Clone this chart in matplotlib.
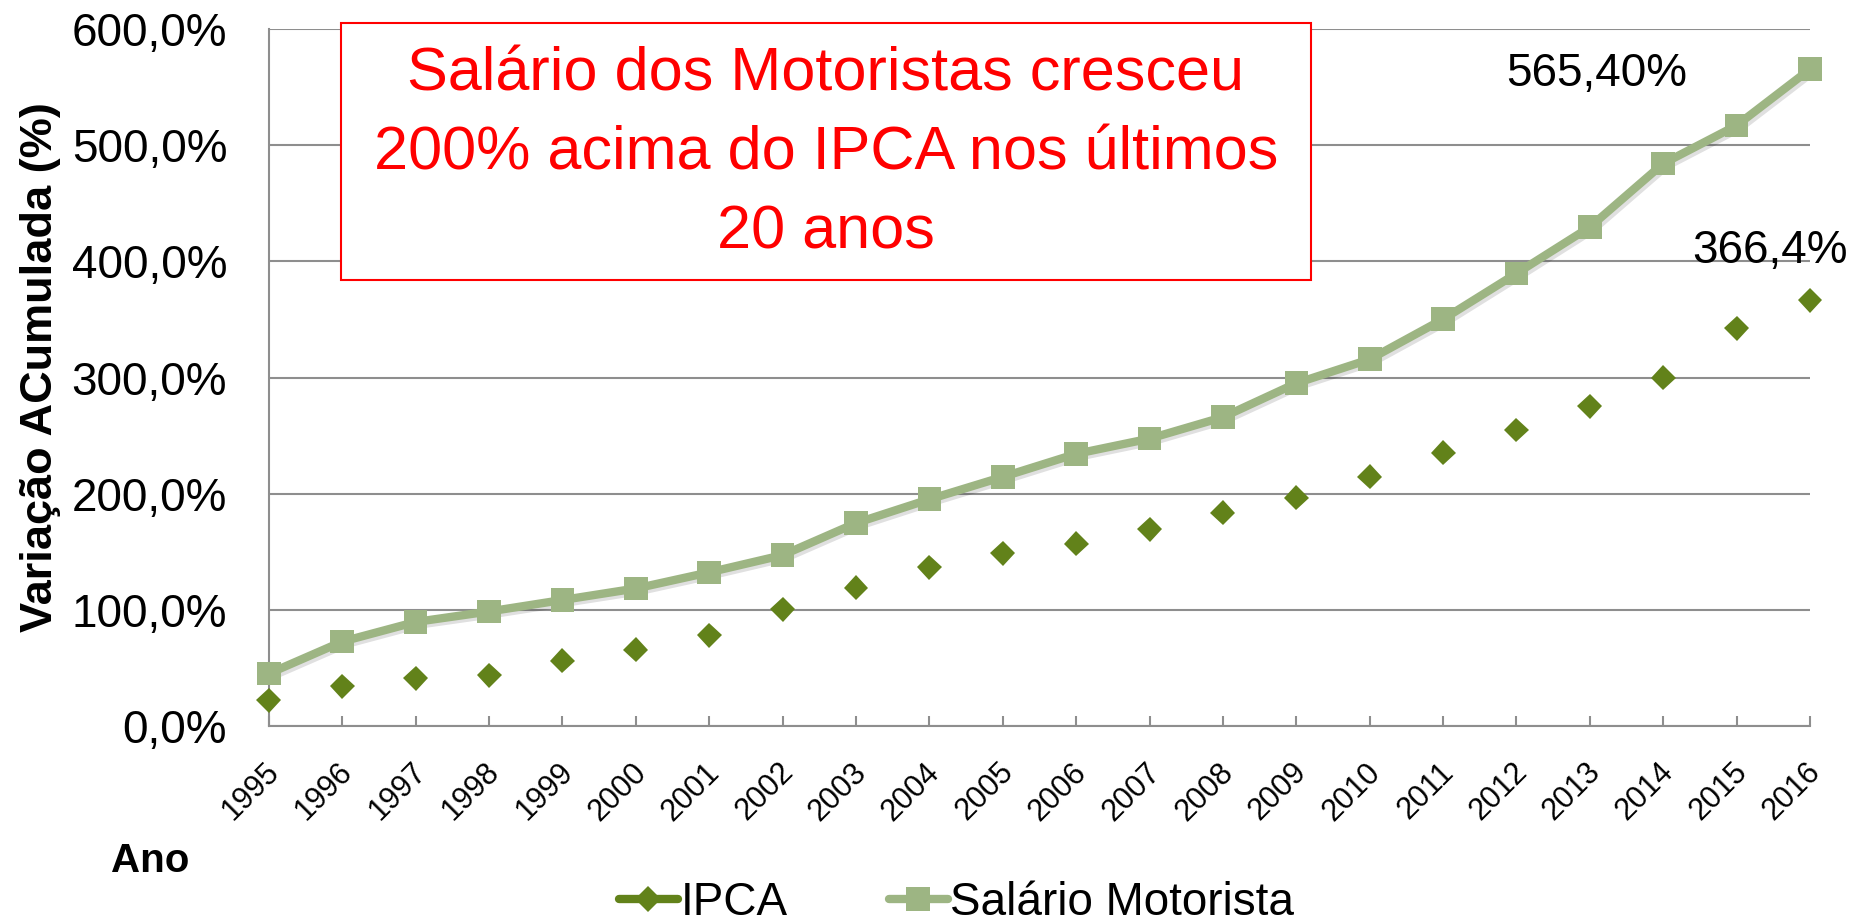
import matplotlib
matplotlib.use('Agg')
import matplotlib.pyplot as plt
import matplotlib.patheffects as pe
from matplotlib.lines import Line2D
from matplotlib.patches import Rectangle
from matplotlib.transforms import ScaledTranslation

plt.rcParams['font.family'] = ['Liberation Sans', 'DejaVu Sans']

# dados (variacao acumulada em %)
anos = list(range(1995, 2017))
ipca = [22.2, 34.1, 41.1, 43.6, 56.3, 65.8, 78.1, 100.7, 119.2, 136.5, 148.8,
        157.0, 169.3, 183.7, 196.5, 214.5, 235.1, 254.8, 275.4, 300.0, 342.4, 366.4]
salario = [45.2, 72.7, 89.6, 98.6, 108.5, 118.4, 132.3, 147.1, 174.7, 195.2, 214.5,
           234.3, 247.4, 265.9, 295.1, 315.7, 350.2, 389.6, 429.5, 484.2, 517.0, 565.4]
y_ticks = [0, 100, 200, 300, 400, 500, 600]
y_labels = ['0,0%', '100,0%', '200,0%', '300,0%', '400,0%', '500,0%', '600,0%']
titulo = 'Salário dos Motoristas cresceu\n200% acima do IPCA nos últimos\n20 anos'

cor_sal = '#9DB583'
cor_ipca = '#62821A'
cinza = '#8E8E8E'
sombra = [pe.SimpleLineShadow(offset=(2, -2), shadow_color='k', alpha=0.12), pe.Normal()]

fig = plt.figure(figsize=(18.61, 9.21), dpi=100)
ax = fig.add_axes([0.1445, 0.2117, 0.8281, 0.7568])

ax.plot(anos, salario, color=cor_sal, lw=6, marker='s', ms=17, mew=0,
        clip_on=False, zorder=3, path_effects=sombra)
ax.plot(anos, ipca, ls='none', marker='D', ms=12.7, mew=0, color=cor_ipca,
        clip_on=False, zorder=4, path_effects=sombra)

ax.set_xlim(1995, 2016)
ax.set_ylim(0, 600)
ax.set_xticks(anos)
ax.set_xticklabels([str(a) for a in anos], rotation=45, ha='right', va='center',
                   rotation_mode='anchor')
ax.set_yticks(y_ticks)
ax.set_yticklabels(y_labels)

ax.yaxis.grid(True, color=cinza, lw=1.5)
ax.set_axisbelow(True)
for s in ['top', 'right']:
    ax.spines[s].set_visible(False)
for s in ['left', 'bottom']:
    ax.spines[s].set_color(cinza)
    ax.spines[s].set_linewidth(1.5)

ax.tick_params(axis='x', direction='in', length=7, width=1.5, color=cinza,
               labelsize=22, pad=30)
ax.tick_params(axis='y', length=0, pad=30, labelsize=33)

# desloca os anos um pouco para a direita, como no original
desloc = ScaledTranslation(0.06, 0, fig.dpi_scale_trans)
for lab in ax.get_xticklabels():
    lab.set_transform(lab.get_transform() + desloc)

fig.text(0.0215, 0.6015, 'Variação ACumulada (%)', rotation=90, ha='center',
         va='center', fontsize=32.5, fontweight='bold')
fig.text(0.0596, 0.0532, 'Ano', ha='left', va='baseline', fontsize=29,
         fontweight='bold')

ax.annotate('565,40%', xy=(anos[-1], salario[-1]), xytext=(-213, -17),
            textcoords='offset pixels', ha='center', va='baseline', fontsize=33)
ax.annotate('366,4%', xy=(anos[-1], ipca[-1]), xytext=(-40, 37),
            textcoords='offset pixels', ha='center', va='baseline', fontsize=33,
            annotation_clip=False)

fig.patches.append(Rectangle((0.1832, 0.6964), 0.5212, 0.2791, transform=fig.transFigure,
                             facecolor='white', edgecolor='red', lw=1.5, zorder=5))
fig.text(0.4438, 0.7303, titulo, ha='center', va='baseline', multialignment='center',
         color='red', fontsize=44, linespacing=1.5, zorder=6)

handles = [
    Line2D([], [], color=cor_ipca, lw=6, marker='D', ms=13, mew=0, solid_capstyle='round'),
    Line2D([], [], color=cor_sal, lw=6, marker='s', ms=17, mew=0, solid_capstyle='round'),
]
fig.legend(handles, ['IPCA', 'Salário Motorista'], loc='center', bbox_to_anchor=(0.514, 0.02),
           ncol=2, frameon=False, fontsize=33, handlelength=1.3, handletextpad=0.05,
           columnspacing=2.2)

fig.savefig('out.png', dpi=100)
